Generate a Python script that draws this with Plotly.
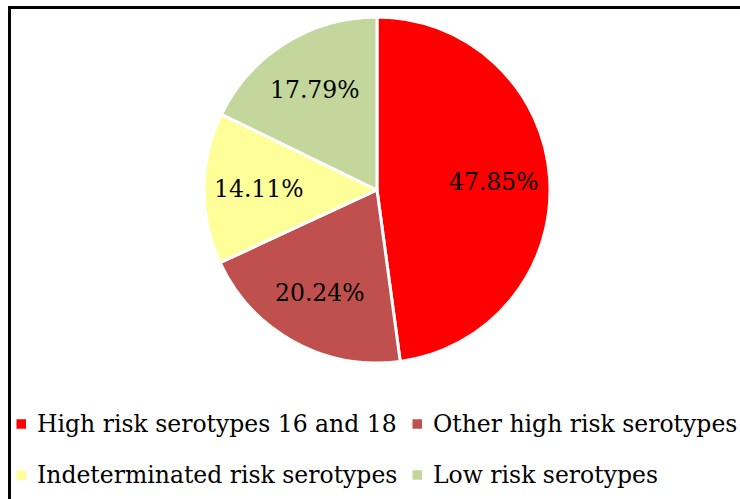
import math
import plotly.graph_objects as go

# Serotype distribution (percent of cases)
labels = [
    "High risk serotypes 16 and 18",
    "Other high risk serotypes",
    "Indeterminated risk serotypes",
    "Low risk serotypes",
]
values = [47.85, 20.24, 14.11, 17.79]
colors = ["#FF0000", "#C0504D", "#FFFF99", "#C3D69B"]

W, H = 740, 499
FONT = "DejaVu Serif"


def px(x):
    return x / W


def py(y):
    return 1 - y / H


# pie centre and radius in pixels
cx, cy, R = 377, 190, 173

fig = go.Figure(
    go.Pie(
        labels=labels,
        values=values,
        sort=False,
        direction="clockwise",
        rotation=0,
        marker=dict(colors=colors, line=dict(color="white", width=3)),
        textinfo="none",
        domain=dict(x=[px(cx - R), px(cx + R)], y=[py(cy + R), py(cy - R)]),
        showlegend=False,
        hoverinfo="label+percent",
    )
)

annotations = []

# value labels at the middle angle of each slice
total = sum(values)
start = 0.0
for v in values:
    mid = (start + v / 2) / total * 2 * math.pi
    start += v
    r = 0.68 * R
    annotations.append(
        dict(
            text=f"{v:.2f}%", xref="paper", yref="paper",
            x=px(cx + r * math.sin(mid)), y=py(cy - r * math.cos(mid)),
            xanchor="center", yanchor="middle", showarrow=False,
            font=dict(family=FONT, size=23.5, color="black"),
        )
    )

# chart frame
shapes = [
    dict(
        type="rect", xref="paper", yref="paper",
        x0=px(9.5), x1=px(780), y0=py(540), y1=py(7.5),
        line=dict(color="black", width=3), fillcolor="rgba(0,0,0,0)",
    )
]

# two-column legend below the pie
col_x = [16.5, 412.5]
row_y = [424, 475]
sq = 9.5
for i, (lab, col) in enumerate(zip(labels, colors)):
    x = col_x[i % 2]
    y = row_y[i // 2]
    shapes.append(
        dict(
            type="rect", xref="paper", yref="paper",
            x0=px(x), x1=px(x + sq), y0=py(y + sq / 2), y1=py(y - sq / 2),
            line=dict(width=0), fillcolor=col,
        )
    )
    annotations.append(
        dict(
            text=lab, xref="paper", yref="paper",
            x=px(x + 18), y=py(y), xanchor="left", yanchor="middle",
            showarrow=False, font=dict(family=FONT, size=23.5, color="black"),
        )
    )

fig.update_layout(
    width=W,
    height=H,
    margin=dict(l=0, r=0, t=0, b=0),
    paper_bgcolor="white",
    plot_bgcolor="white",
    shapes=shapes,
    annotations=annotations,
)

fig.write_html("out.html")
